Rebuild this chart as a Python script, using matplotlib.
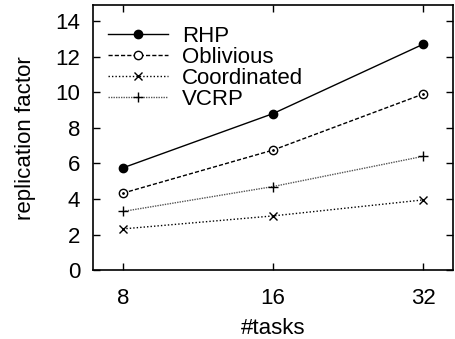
import matplotlib
matplotlib.use("Agg")
import matplotlib.pyplot as plt
from matplotlib.ticker import FixedLocator, NullLocator

plt.rcParams['font.family'] = ['Liberation Sans', 'DejaVu Sans']

tasks = [8, 16, 32]
tick_labels = ["8", "16", "32"]
rhp = [5.75, 8.8, 12.7]
oblivious = [4.33, 6.75, 9.9]
coordinated = [2.32, 3.05, 3.95]
vcrp = [3.3, 4.7, 6.4]

fig = plt.figure(figsize=(4.55, 3.39), dpi=100)
ax = fig.add_axes([0.204, 0.203, 0.792, 0.782])

ax.plot(tasks, rhp, color='black', lw=1.0, ls='-', marker='o', ms=6,
        mfc='black', label='RHP')
ax.plot(tasks, oblivious, color='black', lw=1.0, ls=(0, (3, 1.5)), marker='o', ms=6,
        mfc='white', mew=1.0, label='Oblivious')
ax.plot(tasks, oblivious, ls='none', marker='.', ms=2, color='black')
ax.plot(tasks, coordinated, color='black', lw=1.0, ls=(0, (1, 1.5)), marker='x', ms=6,
        mew=1.0, label='Coordinated')
ax.plot(tasks, vcrp, color='#555555', lw=1.0, ls=(0, (1, 0.8)), marker='+', ms=7,
        mew=1.0, mec='black', label='VCRP')

ax.set_xscale('log', base=2)
ax.set_xlim(2 ** 2.8, 2 ** 5.2)
ax.xaxis.set_major_locator(FixedLocator(tasks))
ax.xaxis.set_minor_locator(NullLocator())
ax.set_xticklabels(tick_labels)
ax.set_ylim(0, 14.9)
ax.set_yticks(range(0, 15, 2))

ax.tick_params(direction='in', top=True, right=True, length=5, width=1,
               labelsize=16)
ax.tick_params(axis='x', pad=13)
ax.tick_params(axis='y', pad=9)
for s in ax.spines.values():
    s.set_linewidth(1.2)

ax.set_xlabel('#tasks', fontsize=16, labelpad=6)
ax.set_ylabel('replication factor', fontsize=16, labelpad=14)

ax.legend(loc='upper left', frameon=False, fontsize=16, handlelength=2.7,
          labelspacing=0.0, handletextpad=0.6, borderaxespad=0.3,
          bbox_to_anchor=(0.0, 0.98))

fig.savefig('out.png', dpi=100)
